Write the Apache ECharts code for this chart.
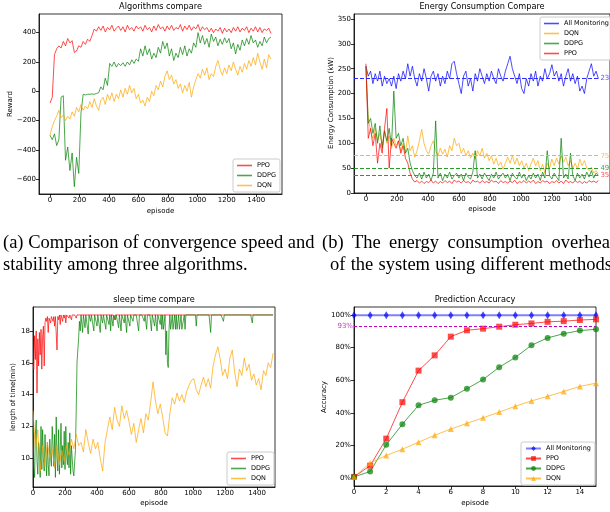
<!DOCTYPE html>
<html><head><meta charset="utf-8">
<script src="https://cdn.jsdelivr.net/npm/echarts@6/dist/echarts.min.js"></script>
<style>html,body{margin:0;padding:0;background:#fff}#c{width:610px;height:512px}</style>
</head><body><div id="c"></div>
<script>
// ---------- data ----------
const STEP = 15;      // episodes between stored samples
const STEP_FINE = 5;  // finer sampling for the sleep-time PPO/DDPG curves

// (a) reward
const rewardPPO = [-80,-40,250,290,310,295,340,310,360,330,
 345,265,275,310,300,340,320,355,340,380,
 425,410,440,415,445,405,435,420,450,410,
 430,445,415,440,405,450,420,435,410,445,
 425,440,410,450,420,435,405,445,415,455,
 425,440,410,445,420,450,415,435,425,455,
 410,445,420,450,415,440,425,455,410,440,
 420,435,405,430,400,425,410,435,395,430,
 405,425,400,435,410,440,405,430,415,440,
 400,430,410,440,405,435,400,425,415,430,
 395];
const rewardDDPG = [-300,-330,-290,-370,-330,-40,-30,-470,-380,-540,
 -420,-650,-450,-560,-150,-20,-25,-20,-20,-18,
 -20,-15,-10,30,10,90,40,190,170,200,
 165,190,175,195,170,200,180,215,190,220,
 205,290,240,310,250,290,220,260,230,300,
 260,340,290,330,240,290,210,260,230,300,
 250,310,240,290,260,330,300,400,330,380,
 320,360,300,390,340,370,310,355,320,365,
 330,360,290,330,255,320,280,350,310,360,
 320,380,330,350,300,340,310,370,330,360,
 370];
const rewardDQN = [-300,-240,-200,-170,-130,-180,-160,-200,-170,-190,
 -140,-170,-110,-140,-90,-130,-100,-120,-70,-110,
 -50,-100,-130,-60,-40,-90,-20,-60,-10,-70,
 -20,-50,10,-40,20,-20,40,-10,20,-50,
 -20,-80,-60,-100,-40,-70,0,-30,40,10,
 70,30,100,140,80,110,50,80,20,50,
 -10,40,0,60,-40,30,80,120,90,150,
 110,160,80,120,100,170,210,150,110,160,
 120,180,140,200,150,110,170,130,190,150,
 210,170,230,180,260,200,150,220,160,250,
 220];

// (b) energy
const energyAll = [255,235,245,220,240,225,245,215,235,220,
 230,215,235,210,240,225,245,230,260,235,
 255,230,215,240,225,250,230,205,235,245,
 225,240,215,235,220,245,230,260,265,240,
 220,200,235,245,215,230,205,240,225,250,
 235,220,240,225,245,230,220,250,235,225,
 245,260,275,250,235,220,240,210,200,230,
 215,240,225,245,215,235,225,250,230,240,
 258,235,245,225,240,215,235,250,225,240,
 220,235,205,215,200,230,245,260,235,245,
 230];
const energyDQN = [250,150,125,110,130,105,120,95,125,100,
 115,90,110,95,105,85,100,80,115,85,
 95,72,85,105,128,100,85,78,95,105,
 85,75,90,78,88,72,95,85,110,95,
 100,80,90,75,85,70,80,68,85,75,
 90,70,80,65,75,58,70,55,62,48,
 60,72,60,75,58,70,55,65,50,60,
 45,58,70,55,65,45,58,40,60,50,
 68,55,70,58,75,62,72,55,65,50,
 60,48,68,55,65,50,45,52,40,45,
 38];
const energyDDPG = [255,140,150,120,140,100,135,90,125,105,
 130,95,205,110,120,95,110,80,90,60,
 45,35,30,40,28,42,30,38,25,40,
 145,30,40,25,38,30,42,28,35,40,
 30,38,25,40,32,28,42,85,30,38,
 28,40,32,25,38,30,42,28,35,40,
 30,38,25,40,32,28,42,30,38,25,
 35,28,40,30,38,25,42,30,85,35,
 28,40,32,25,110,30,38,28,80,35,
 25,40,30,38,28,42,32,45,30,40,
 35];
const energyPPO = [260,110,130,95,120,60,100,80,130,170,
 50,110,100,90,105,80,95,70,60,40,
 28,22,25,20,24,19,23,21,26,20,
 24,19,23,20,25,21,24,19,26,22,
 24,20,25,21,23,19,26,22,24,20,
 25,21,23,20,26,22,24,19,25,21,
 23,20,24,21,26,19,23,21,25,20,
 24,21,26,19,23,20,25,22,24,19,
 23,21,25,20,24,19,26,21,23,20,
 25,21,24,19,23,20,25,22,24,21,
 25];
const energyAvg = [230, 75, 49, 35];   // All Monitoring, DQN, DDPG, PPO

// (c) sleep time  (PPO & DDPG every 5 episodes, DQN every 15)
const sleepPPO = [
 16.0,15.6,17.7,16.2,18.0,14.1,17.5,15.8,17.9,16.5,18.1,15.6,17.6,18.3,15.8,18.5,18.8,18.6,18.9,17.9,
 18.8,18.9,18.5,18.9,19.0,18.6,18.9,18.3,18.9,19.0,16.8,18.9,18.7,19.0,18.4,19.0,18.9,18.6,19.0,18.8,
 19.0,18.5,19.0,18.9,19.0,18.8,19.0,19.0,18.7,19.0,19.0,18.9,19.0,19.0,18.8,19.0,19.0,18.9,19.0,19.0,
 19,19,19,19,19,19,19,19,19,19,19,19,19,19,19,19,19,19,19,19,
 19,19,19,19,19,19,19,19,19,19,19,19,19,19,19,19,19,19,19,19,
 19,19,18.7,19,19,19,19,19,19,19,19,19,19,19,19,19,19,19,19,19,
 19,19,19,19,19,19,19,19,19,19,19,19,19,19,19,19,19,19,19,19,
 19,19,19,19,19,19,19,19,19,19,19,19,19,19,19,19,19,19,19,19,
 19,19,19,19,19,19,19,19,19,19,19,19,19,19,19,19,19,19,19,19,
 19,19,19,19,19,19,19,19,19,19,19,19,19,19,19,19,19,19,19,19,
 19,19,19,19,19,19,19,19,19,19,19,19,19,19,19,19,19,19,19,19,
 19,19,19,19,19,19,19,19,19,19,19,19,19,19,19,19,19,19,19,19,
 19,19,19,19,19,19,19,19,19,19,19,19,19,19,19,19,19,19,19,19,
 19,19,19,19,19,19,19,19,19,19,19,19,19,19,19,19,19,19,19,19,
 19,19,19,19,19,19,19,19,19,19,19,19,19,19,19,19,19,19,19,19,
 19];
const sleepDDPG = [
 12.0,9.5,8.8,11.5,12.4,9.8,9.0,11.0,10.5,8.8,12.0,9.3,11.8,10.0,9.2,11.5,10.2,8.9,11.0,9.6,
 8.9,11.2,10.0,9.5,12.0,10.8,9.5,11.5,8.8,12.6,10.0,9.2,11.8,9.0,10.5,12.2,9.4,10.8,9.6,11.7,
 9.3,12.0,10.2,9.6,11.0,9.4,11.6,9.0,10.8,10.0,9.2,8.9,8.8,10.5,13.0,16.0,16.8,17.5,18.6,18.0,
 19,18.9,17.9,19,19,18.2,19,19,19,17.8,19,19,18.6,19,19,19,18.0,19,19,19,
 18.3,19,19,19,17.9,19,19,18.5,19,19,19,18.1,19,19,19,18.4,19,18.0,19,19,
 18.3,19,19,18.7,19,19,19,18.2,19,19,18.0,19,19,19,18.5,19,19,17.9,19,19,
 19,18.3,19,19,19,18.6,19,19,19,19,19,19,18.0,19,19,19,19,19,19,18.6,
 19,19,18.1,19,19,19,19,19,18.0,19,19,19,18.3,19,19,18.0,19,19,19,18.4,
 19,18.1,19,18.1,18.1,19,16.5,18.0,16.0,15.7,18.1,19,18.1,18.1,19,18.1,18.1,19,18.1,19,
 18.1,18.1,19,18.1,18.1,19,18.1,18.1,18.1,19,18.1,19,19,19,19,19,19,19,19,19,
 19,19,19,19,18.3,19,19,19,19,19,19,19,19,19,19,19,19,19,19,19,
 19,19,17.9,19,19,19,19,19,19,19,19,19,19,19,19,19,19,19,18.6,19,
 19,19,19,19,19,19,19,19,19,19,19,19,19,19,19,19,19,19,19,19,
 19,19,19,19,19,19,19,19,19,19,19,19,19,19,18.5,19,19,19,19,19,
 19,19,19,19,19,19,19,19,19,19,19,19,19,19,19,19,19,19,19,19,
 19];
const sleepDQN = [13.0,10.5,11.8,9.2,10.8,9.5,11.0,10.0,10.6,9.4,
 10.8,9.6,10.5,9.8,10.8,10.2,11.2,10.6,11.5,10.8,
 11.0,10.4,11.8,11.0,10.3,11.2,10.6,11.0,10.0,9.2,
 11.0,11.8,12.6,11.8,13.2,12.4,12.0,13.3,12.5,13.0,
 12.3,11.5,12.2,11.0,11.8,12.5,11.6,12.8,12.4,13.5,
 14.8,13.6,12.8,13.4,12.6,11.6,11.4,12.8,13.8,13.4,
 14.1,13.6,14.0,13.5,14.2,14.6,14.9,15.0,14.3,14.0,
 14.6,15.1,14.5,15.0,14.4,15.8,16.5,17.0,16.2,15.2,
 15.6,15.0,16.3,16.8,15.4,14.5,15.6,15.2,16.3,15.5,
 15.9,14.9,15.3,14.6,15.0,14.3,15.5,15.2,16.0,15.7,
 16.6];

// (d) prediction accuracy (%)
const accEpisodes = [0,1,2,3,4,5,6,7,8,9,10,11,12,13,14,15];
const accAll  = [100,100,100,100,100,100,100,100,100,100,100,100,100,100,100,100];
const accPPO  = [0.6,7.5,24.1,46.5,65.9,75.3,86.8,90.7,91.7,92.9,94.1,94.9,95.9,96.3,97.0,97.4];
const accDDPG = [0.6,3.9,20.3,33.0,44.6,47.7,49.3,54.8,60.4,68.0,74.0,81.5,86.0,88.6,90.5,91.3];
const accDQN  = [0.6,9.1,13.8,17.6,21.9,26.2,30.0,33.5,36.9,40.4,44.0,47.3,50.1,53.1,56.2,58.2];
const accThreshold = 93;

// tick labels
const ticksEpisode = [0,200,400,600,800,1000,1200,1400];
const ticksReward = [-600,-400,-200,0,200,400];
const ticksEnergy = [0,50,100,150,200,250,300,350];
const ticksSleep = [10,12,14,16,18];
const ticksAccX = [0,2,4,6,8,10,12,14];
const ticksAccY = [0,20,40,60,80,100];

// ---------- chart ----------
const RED='rgba(255,0,0,0.7)', GREEN='rgba(0,128,0,0.7)', ORANGE='rgba(255,165,0,0.7)', BLUE='rgba(0,0,255,0.7)';
const FONT='DejaVu Sans', SERIF='Liberation Serif';
const minus = v => String(v).replace('-', '\u2212');
const xy = (arr, step) => arr.map((v, i) => [i * step, v]);
const pairs = (xs, ys) => xs.map((x, i) => [x, ys[i]]);

function axis(gi, min, max, ticks, fmt) {
  return {type:'value', gridIndex:gi, min, max, splitLine:{show:false},
    axisLine:{show:true, onZero:false, lineStyle:{color:'#000', width:0.8}},
    axisTick:{show:true, length:3, customValues:ticks, lineStyle:{color:'#000', width:0.8}},
    axisLabel:{show:true, customValues:ticks, fontSize:7, fontFamily:FONT, color:'#000', margin:3, formatter: fmt || minus}};
}
function line(name, data, color, gi, extra) {
  return Object.assign({type:'line', name, xAxisIndex:gi, yAxisIndex:gi, data, symbol:'none',
    lineStyle:{color, width:1}, itemStyle:{color}, silent:true, animation:false, z:2}, extra || {});
}
function legend(names, left, top, plain) {
  return {orient:'vertical', left, top,
    data: plain ? names.map(n => ({name:n, icon:'rect'})) : names,
    formatter: n => n.split('#')[0],
    backgroundColor:'rgba(255,255,255,0.85)', borderColor:'#cccccc', borderWidth:1, borderRadius:2,
    padding:[3,4,3,4], itemGap:plain ? 3 : 3, itemWidth:15, itemHeight:plain ? 1.6 : 6, selectedMode:false,
    textStyle:{fontSize:6.5, fontFamily:FONT, color:'#000'}};
}
const lastEpisode = (energyAll.length - 1) * STEP;
const energyColors = [BLUE, ORANGE, GREEN, RED];
const energySolid = ['#2b2bff','#ffb030','#2a9a2a','#ff3030'];
function avgMark(k) {
  return {silent:true, symbol:['none','none'],
    lineStyle:{type:[4,2], color:energySolid[k], width:1},
    label:{show:true, position:'end', distance:2, formatter:String(energyAvg[k]), color:energyColors[k], fontSize:7, fontFamily:FONT},
    data:[[{coord:[-77, energyAvg[k]]},{coord:[lastEpisode, energyAvg[k]]}]]};
}

const T = (text, x, y, size, o) => ({type:'text', x, y, rotation:(o&&o.rot)||0, z:100,
  style:{text, fontSize:size, fontFamily:(o&&o.font)||FONT, fill:'#000', align:(o&&o.align)||'left', verticalAlign:'middle'}});
const R90 = Math.PI/2;

// caption layout (justified lines measured with the canvas)
const CAP = 18.5;
const ctx = document.createElement('canvas').getContext('2d');
ctx.font = CAP + 'px "Liberation Serif"';
function justify(words, x0, x1, y, fitWords) {
  const fw = fitWords || words;
  const widths = fw.map(w => ctx.measureText(w).width);
  const total = widths.reduce((a, b) => a + b, 0);
  const gap = (x1 - x0 - total) / (words.length - 1);
  let x = x0; const out = [];
  words.forEach((w, i) => { out.push(T(w, x, y, CAP, {font:SERIF})); x += widths[i] + gap; });
  return out;
}
const captions = [].concat(
  [T('(a) Comparison of convergence speed and', 3, 243, CAP, {font:SERIF})],
  [T('stability among three algorithms.', 3, 265, CAP, {font:SERIF})],
  justify(['(b)','The','energy','consumption','overhead'], 322, 610, 243, ['(b)','The','energy','consumption','overhea']),
  justify(['of','the','system','using','different','methods'], 330, 612, 265)
);

const option = {
  animation:false,
  grid:[
    {left:39, top:14, width:243, height:180, show:true, borderColor:'#000', borderWidth:0.8},
    {left:354, top:14, width:256, height:179, show:true, borderColor:'#000', borderWidth:0.8},
    {left:33, top:307, width:242, height:180, show:true, borderColor:'#000', borderWidth:0.8},
    {left:354, top:307, width:242, height:179, show:true, borderColor:'#000', borderWidth:0.8}
  ],
  xAxis:[
    axis(0, -75, 1575, ticksEpisode),
    axis(1, -77, 1575, ticksEpisode),
    axis(2, 0, 1512, ticksEpisode),
    axis(3, 0, 15, ticksAccX)
  ],
  yAxis:[
    axis(0, -700, 527, ticksReward),
    axis(1, 0, 360, ticksEnergy),
    axis(2, 8.2, 19.5, ticksSleep),
    axis(3, -5, 105, ticksAccY, v => v + '%')
  ],
  legend:[
    legend(['PPO#a','DDPG#a','DQN#a'], 233, 159, true),
    legend(['All Monitoring#b','DQN#b','DDPG#b','PPO#b'], 540, 17, true),
    legend(['PPO#c','DDPG#c','DQN#c'], 227, 452, true),
    legend(['All Monitoring#d','PPO#d','DDPG#d','DQN#d'], 521, 442, false)
  ],
  series:[
    line('PPO#a', xy(rewardPPO, STEP), RED, 0),
    line('DDPG#a', xy(rewardDDPG, STEP), GREEN, 0),
    line('DQN#a', xy(rewardDQN, STEP), ORANGE, 0),

    line('All Monitoring#b', xy(energyAll, STEP), BLUE, 1, {markLine:avgMark(0)}),
    line('DQN#b', xy(energyDQN, STEP), ORANGE, 1, {markLine:avgMark(1)}),
    line('DDPG#b', xy(energyDDPG, STEP), GREEN, 1, {markLine:avgMark(2)}),
    line('PPO#b', xy(energyPPO, STEP), RED, 1, {markLine:avgMark(3)}),

    line('PPO#c', xy(sleepPPO, STEP_FINE), RED, 2),
    line('DDPG#c', xy(sleepDDPG, STEP_FINE), GREEN, 2),
    line('DQN#c', xy(sleepDQN, STEP), ORANGE, 2),

    line('All Monitoring#d', pairs(accEpisodes, accAll), BLUE, 3, {symbol:'diamond', symbolSize:[5,8], showSymbol:true,
      lineStyle:{color:'rgba(0,0,255,0.5)', width:2},
      markLine:{silent:true, symbol:['none','none'], lineStyle:{type:[3,2], color:'#bf00bf', width:1},
        label:{show:true, position:'start', distance:1, formatter:accThreshold+'%', color:'#c040c0', fontSize:7, fontFamily:FONT, padding:[0,0,8,0]},
        data:[{yAxis:accThreshold}]}}),
    line('PPO#d', pairs(accEpisodes, accPPO), RED, 3, {symbol:'rect', symbolSize:6, showSymbol:true}),
    line('DDPG#d', pairs(accEpisodes, accDDPG), GREEN, 3, {symbol:'circle', symbolSize:6, showSymbol:true}),
    line('DQN#d', pairs(accEpisodes, accDQN), ORANGE, 3, {symbol:'triangle', symbolSize:6, showSymbol:true})
  ],
  graphic:[
    T('Algorithms compare', 160.5, 7, 8.2, {align:'center'}),
    T('Energy Consumption Compare', 482, 7, 8.2, {align:'center'}),
    T('sleep time compare', 154, 300, 8.2, {align:'center'}),
    T('Prediction Accuracy', 475, 300, 8.2, {align:'center'}),
    T('episode', 160.5, 211, 7, {align:'center'}),
    T('episode', 482, 209, 7, {align:'center'}),
    T('episode', 154, 503, 7, {align:'center'}),
    T('episode', 475, 503, 7, {align:'center'}),
    T('Reward', 10, 104, 7, {rot:R90, align:'center'}),
    T('Energy Consumption (kW)', 331.5, 103, 7, {rot:R90, align:'center'}),
    T('length of time(min)', 13, 397, 7, {rot:R90, align:'center'}),
    T('Accuracy', 324, 397, 7, {rot:R90, align:'center'})
  ].concat(captions)
};
const chart = echarts.init(document.getElementById('c'), null, {renderer:'canvas'});
chart.setOption(option);
</script></body></html>
